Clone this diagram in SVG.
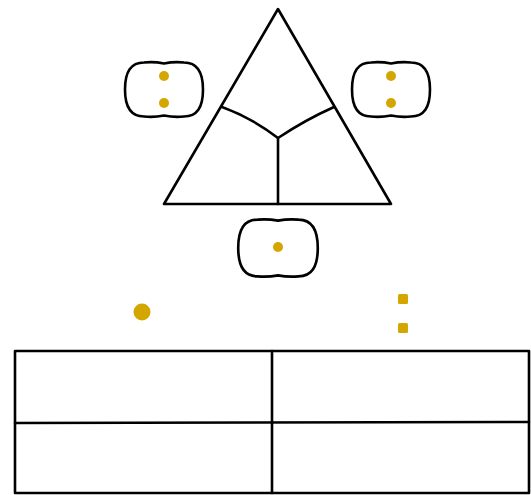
<svg xmlns="http://www.w3.org/2000/svg" width="531" height="495" viewBox="0 0 531 495">
<style>
.s{fill:none;stroke:#000;stroke-width:2.6;stroke-linecap:round;stroke-linejoin:round}
.d{fill:#d4a600}
</style>
<defs>
<path id="blob" class="s" d="M -20,-27 Q -10,-28 0,-26 Q 10,-28 20,-27 C 33,-27 39,-18 39,0 C 39,18 33,27 20,27 Q 10,28 0,26 Q -10,28 -20,27 C -33,27 -39,18 -39,0 C -39,-18 -33,-27 -20,-27 Z"/>
</defs>
<rect width="531" height="495" fill="#fff"/>
<g id="triangle">
<path class="s" d="M278,9 L391,204 L164,204 Z"/>
</g>
<g id="connectors">
<path class="s" d="M222,107 Q252,118 278,138 Q305,120 334,107"/>
<path class="s" d="M278,138 L278,204"/>
</g>
<g id="blob-left">
<use href="#blob" transform="translate(164,89.5)"/>
<circle class="d" cx="164" cy="76" r="5"/>
<circle class="d" cx="164" cy="103" r="5"/>
</g>
<g id="blob-right">
<use href="#blob" transform="translate(391,89.5)"/>
<circle class="d" cx="391" cy="76" r="5"/>
<circle class="d" cx="391" cy="103" r="5"/>
</g>
<g id="blob-bottom">
<use href="#blob" transform="translate(278,248) scale(1.02,1.05)"/>
<circle class="d" cx="278" cy="247" r="5"/>
</g>
<g id="dot">
<circle class="d" cx="142" cy="312" r="8.5"/>
</g>
<g id="squares">
<rect class="d" x="398" y="294" width="10" height="10" rx="1.5"/>
<rect class="d" x="398" y="323" width="10" height="10" rx="1.5"/>
</g>
<g id="table">
<path class="s" d="M15,351 L529,351 L529,493 L15,493 Z"/>
<path class="s" d="M15,423 L529,422"/>
<path class="s" d="M272,351 L272,493"/>
</g>
</svg>
